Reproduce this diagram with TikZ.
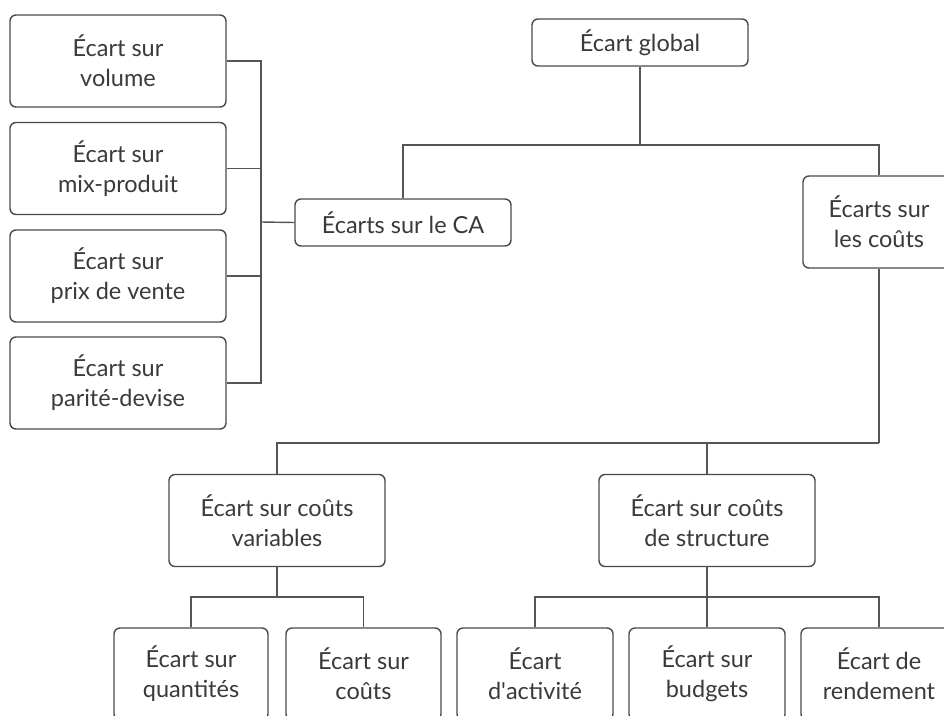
\documentclass[tikz,border=0pt]{standalone}
\usepackage{fontspec}
\setmainfont{Lato}
\begin{document}
\begin{tikzpicture}[x=1pt,y=-1pt,
  box/.style={draw=boxline, line width=1.4pt, rounded corners=6pt, fill=white,
    align=center, inner sep=0pt, text=txt,
    font=\fontsize{23.5}{30}\selectfont},
  tall/.style={box, minimum height=92pt},
  flat/.style={box, minimum height=47pt},
  link/.style={draw=linkc, line width=1.4pt}]
\definecolor{boxline}{HTML}{4A4A4A}
\definecolor{linkc}{HTML}{555555}
\definecolor{txt}{HTML}{3A3A3A}
\useasboundingbox (0,0) rectangle (944,715);
\clip (0,0) rectangle (944,715);

% top of the tree
\node[flat, minimum width=216pt] (glob) at (640,42.5) {Écart global};
\node[flat, minimum width=216pt] (ca) at (403,222.5) {Écarts sur le CA};
\node[tall, minimum width=152pt] (cout) at (879,222) {Écarts sur\\les coûts};

% revenue branches on the left
\node[tall, minimum width=216pt] (vol) at (118,61) {Écart sur\\volume};
\node[tall, minimum width=216pt] (mix) at (118,168.5) {Écart sur\\mix-produit};
\node[tall, minimum width=216pt] (prix) at (118,276) {Écart sur\\prix de vente};
\node[tall, minimum width=216pt] (par) at (118,383) {Écart sur\\parité-devise};

% cost branches
\node[tall, minimum width=216pt] (var) at (277,520.5) {Écart sur coûts\\variables};
\node[tall, minimum width=216pt] (str) at (707,520.5) {Écart sur coûts\\de structure};

\node[tall, minimum width=154pt] (qte) at (191,674) {Écart sur\\quantités};
\node[tall, minimum width=155pt] (cts) at (363.5,674) {Écart sur\\coûts};
\node[tall, minimum width=156pt] (act) at (535,674) {Écart\\d\textquotesingle activité};
\node[tall, minimum width=156pt] (bud) at (707,674) {Écart sur\\budgets};
\node[tall, minimum width=156pt] (ren) at (879,674) {Écart de\\rendement};

% junction points
\coordinate (jg) at (640,145);
\coordinate (jl) at (261,222);
\coordinate (jc) at (879,443);
\coordinate (jv) at (277,597);
\coordinate (js) at (707,597);

% connectors
\draw[link] (glob.south) -- (jg);
\draw[link] (ca.north) |- (jg) -| (cout.north);

\draw[link] (ca.west) -- (jl);
\draw[link] (vol.east) -| (jl);
\draw[link] (mix.east) -| (jl);
\draw[link] (prix.east) -| (jl);
\draw[link] (par.east) -| (jl);

\draw[link] (cout.south) -- (jc);
\draw[link] (var.north) |- (jc);
\draw[link] (str.north) -- (str.north |- jc);

\draw[link] (var.south) -- (jv);
\draw[link] (qte.north) |- (jv) -| (cts.north);

\draw[link] (str.south) -- (bud.north);
\draw[link] (act.north) |- (js) -| (ren.north);
\end{tikzpicture}
\end{document}
